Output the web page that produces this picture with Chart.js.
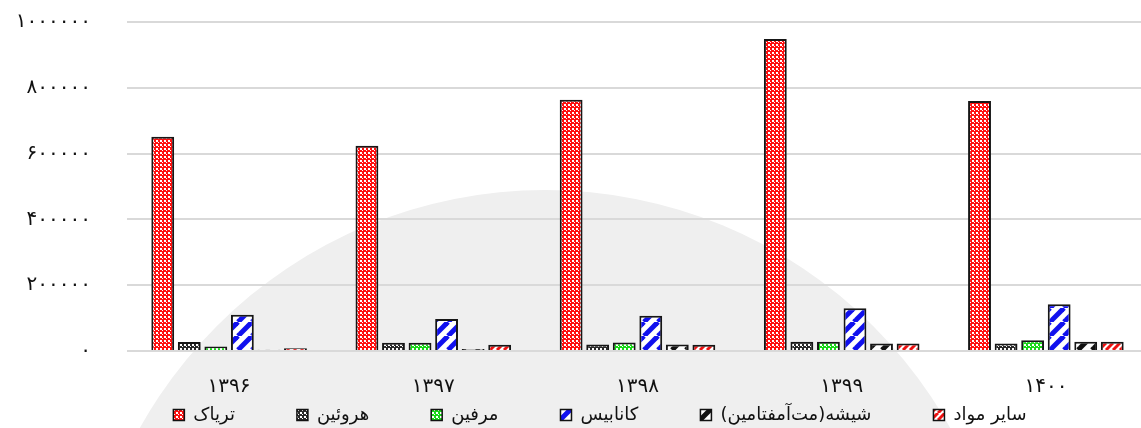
<!DOCTYPE html>
<html>
<head>
<meta charset="utf-8">
<script src="https://cdn.jsdelivr.net/npm/chart.js@4/dist/chart.umd.min.js"></script>
<style>
  html, body { margin: 0; padding: 0; background: #ffffff; overflow: hidden; }
  #wrap { position: relative; width: 1148px; height: 428px; }
</style>
</head>
<body>
<div id="wrap"><canvas id="c"></canvas></div>
<script>
// ---- data ----
const years = ['۱۳۹۶', '۱۳۹۷', '۱۳۹۸', '۱۳۹۹', '۱۴۰۰'];
const seriesNames = ['تریاک', 'هروئین', 'مرفین', 'کانابیس', 'شیشه(مت‌آمفتامین)', 'سایر مواد'];
const opium     = [651000, 624000, 764000, 948000, 760000];
const heroin    = [27000, 25000, 20000, 28000, 23000];
const morphine  = [14000, 25000, 26000, 28000, 33000];
const cannabis  = [110000, 97000, 107000, 130000, 142000];
const shisheh   = [4000, 6000, 20000, 23000, 28000];
const others    = [8000, 19000, 19000, 23000, 28000];
const yTicks    = [0, 200000, 400000, 600000, 800000, 1000000];

const faDigits = '۰۱۲۳۴۵۶۷۸۹';
const toFa = n => String(n).replace(/\d/g, d => faDigits[d]);

// ---- patterns ----
function dots(c1, c2) {
  const cv = document.createElement('canvas');
  cv.width = cv.height = 4;
  const x = cv.getContext('2d');
  x.fillStyle = c1; x.fillRect(0, 0, 4, 4);
  x.fillStyle = c2; x.fillRect(0, 0, 2, 2); x.fillRect(2, 2, 1, 1);
  return x.createPattern(cv, 'repeat');
}
function stripes(color, t, w) {
  const cv = document.createElement('canvas');
  cv.width = cv.height = t;
  const x = cv.getContext('2d');
  x.fillStyle = '#ffffff'; x.fillRect(0, 0, t, t);
  x.strokeStyle = color; x.lineWidth = w;
  for (const o of [-t, 0, t]) {
    x.beginPath(); x.moveTo(o, t); x.lineTo(o + t, 0); x.stroke();
  }
  return x.createPattern(cv, 'repeat');
}

const fills = [
  dots('#ff1010', '#ffffff'),
  dots('#2a2a2a', '#ffffff'),
  dots('#18d818', '#ffffff'),
  stripes('#1010ee', 14, 5),
  stripes('#111111', 14, 5),
  stripes('#ee1111', 7, 3)
];
const values = [opium, heroin, morphine, cannabis, shisheh, others];

const datasets = seriesNames.map((name, i) => ({
  label: name,
  data: values[i],
  backgroundColor: fills[i],
  borderColor: '#161616',
  borderWidth: 2,
  borderSkipped: 'bottom',
  categoryPercentage: 0.78,
  barPercentage: 0.86
}));

// background watermark disc
const bgDisc = {
  id: 'bgDisc',
  beforeDraw(chart) {
    const ctx = chart.ctx;
    ctx.save();
    ctx.fillStyle = '#efefef';
    ctx.beginPath();
    ctx.arc(545, 654, 464, 0, Math.PI * 2);
    ctx.fill();
    ctx.restore();
  }
};

// nudge legend row to the right, as in the reference
const legendShift = {
  id: 'legendShift',
  afterLayout(chart) {
    if (chart.legend) { chart.legend.left += 26; chart.legend.right += 26; }
  }
};

const legendGap = '\u2003\u2003\u2003';

new Chart(document.getElementById('c'), {
  type: 'bar',
  data: { labels: years, datasets },
  plugins: [bgDisc, legendShift],
  options: {
    responsive: true,
    maintainAspectRatio: false,
    animation: false,
    layout: { padding: { top: 22, left: 0, right: 0, bottom: -6 } },
    plugins: {
      tooltip: { enabled: false },
      legend: {
        position: 'bottom',
        labels: {
          font: { family: 'DejaVu Sans', size: 18 },
          color: '#111',
          boxWidth: 11,
          boxHeight: 11,
          padding: 8,
          generateLabels(chart) {
            const items = Chart.defaults.plugins.legend.labels.generateLabels(chart);
            items.forEach((it, i) => {
              if (i < items.length - 1) it.text = it.text + legendGap;
              it.lineWidth = 1.5;
              it.strokeStyle = '#111';
            });
            return items;
          }
        }
      }
    },
    scales: {
      x: {
        grid: { display: false, drawTicks: false },
        border: { display: false },
        afterFit(scale) { scale.height = 47; },
        ticks: {
          font: { family: 'DejaVu Sans', size: 20 },
          color: '#111',
          padding: 24
        }
      },
      y: {
        min: 0,
        max: 1000000,
        afterBuildTicks(scale) { scale.ticks = yTicks.map(v => ({ value: v })); },
        afterFit(scale) { scale.width = 127; scale.paddingTop = 0; scale.paddingBottom = 0; },
        grid: { color: '#d9d9d9', lineWidth: 2, drawTicks: false },
        border: { display: false },
        ticks: {
          font: { family: 'DejaVu Sans', size: 20 },
          color: '#111',
          padding: 36,
          callback: v => toFa(v)
        }
      }
    }
  }
});
</script>
</body>
</html>
